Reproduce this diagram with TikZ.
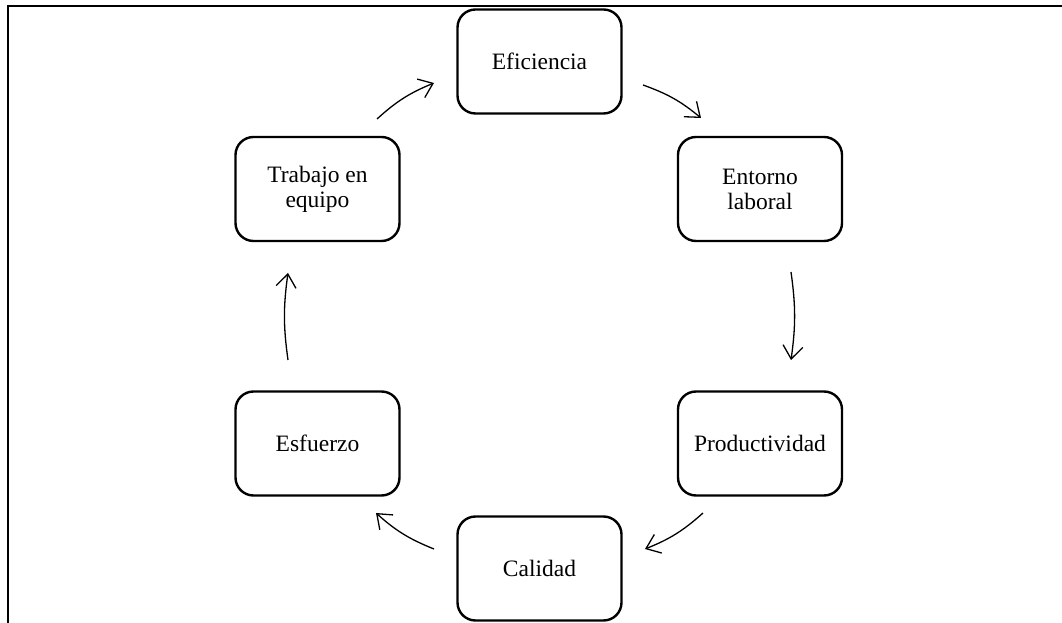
\documentclass[tikz,border=0pt]{standalone}
\usepackage{fontspec}
\setmainfont{Liberation Serif}
\usetikzlibrary{arrows.meta}

\begin{document}
\begin{tikzpicture}[x=1pt,y=1pt,
  stagebox/.style={draw, line width=2.4pt, rounded corners=18pt,
    minimum width=164pt, minimum height=104pt, inner sep=0pt,
    align=center, font=\fontsize{23.5}{25}\selectfont},
  cyclearrow/.style={line width=1.3pt,
    -{Straight Barb[length=13pt,width=20pt,line width=1.3pt]}},
  frameline/.style={line width=2pt}]
\useasboundingbox (0,0) rectangle (1062,623);

% open frame: top and left edges only
\coordinate (fbl) at (8,0);
\coordinate (ftl) at (8,617);
\coordinate (ftr) at (1062,617);
\draw[frameline] (fbl) -- (ftl) -- (ftr);

% stages of the cycle
\node[stagebox] (eficiencia)    at (539.5,561.5) {Eficiencia};
\node[stagebox] (entorno)       at (760,434)     {Entorno\\laboral};
\node[stagebox] (productividad) at (760,179.5)   {Productividad};
\node[stagebox] (calidad)       at (539.5,54.5)  {Calidad};
\node[stagebox] (esfuerzo)      at (317.5,179.5) {Esfuerzo};
\node[stagebox] (trabajo)       at (317.5,434)   {Trabajo en\\equipo};

% arrow ends between neighbouring stages
\coordinate (a1s) at (377,504);  \coordinate (a1e) at (434,540);
\coordinate (a2s) at (643,538);  \coordinate (a2e) at (701,505);
\coordinate (a3s) at (791,351);  \coordinate (a3e) at (791,263);
\coordinate (a4s) at (703,110);  \coordinate (a4e) at (645,74);
\coordinate (a5s) at (434,74);   \coordinate (a5e) at (376,110);
\coordinate (a6s) at (288,263);  \coordinate (a6e) at (288,350);

\draw[cyclearrow] (a1s) to[bend left=10] (a1e);
\draw[cyclearrow] (a2s) to[bend left=10] (a2e);
\draw[cyclearrow] (a3s) to[bend left=8]  (a3e);
\draw[cyclearrow] (a4s) to[bend left=10] (a4e);
\draw[cyclearrow] (a5s) to[bend left=10] (a5e);
\draw[cyclearrow] (a6s) to[bend left=8]  (a6e);
\end{tikzpicture}
\end{document}
